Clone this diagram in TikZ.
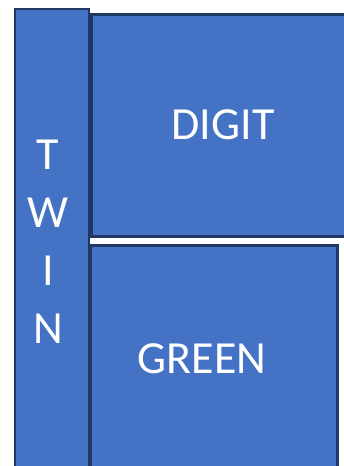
\documentclass[tikz,border=0pt]{standalone}
\usepackage{fontspec}
\setmainfont{Carlito}
\usepackage{tikz}
\usetikzlibrary{positioning}
\definecolor{officeblue}{RGB}{68,114,196}
\definecolor{edgenavy}{RGB}{31,56,100}
\tikzset{
  blockbox/.style={rectangle,draw=edgenavy,line width=2.6pt,fill=officeblue,
    text=white,align=center,font=\fontsize{46}{58}\selectfont,inner sep=0pt},
  blocklabel/.style={text=white,align=center,font=\fontsize{46}{58}\selectfont,inner sep=0pt}
}

\begin{document}
\begin{tikzpicture}[x=1pt,y=-1pt]
  \useasboundingbox (0,0) rectangle (344,466);
  \clip (0,0) rectangle (344,466);
  % left column
  \node[blockbox,minimum width=74pt,minimum height=471pt] (twin) at (52,244.5) {};
  \node[blocklabel] (twintext) at (48,242) {T\\W\\I\\N};
  % right blocks
  \node[blockbox,minimum width=270pt,minimum height=222pt,anchor=north west] (digit) at (90,13) {};
  \node[blocklabel] (digittext) at (223,125) {DIGIT};
  \node[blockbox,minimum width=247pt,minimum height=236pt,anchor=north west] (green) at (89,244) {};
  \node[blocklabel] (greentext) at (202,359) {GREEN};
\end{tikzpicture}
\end{document}
